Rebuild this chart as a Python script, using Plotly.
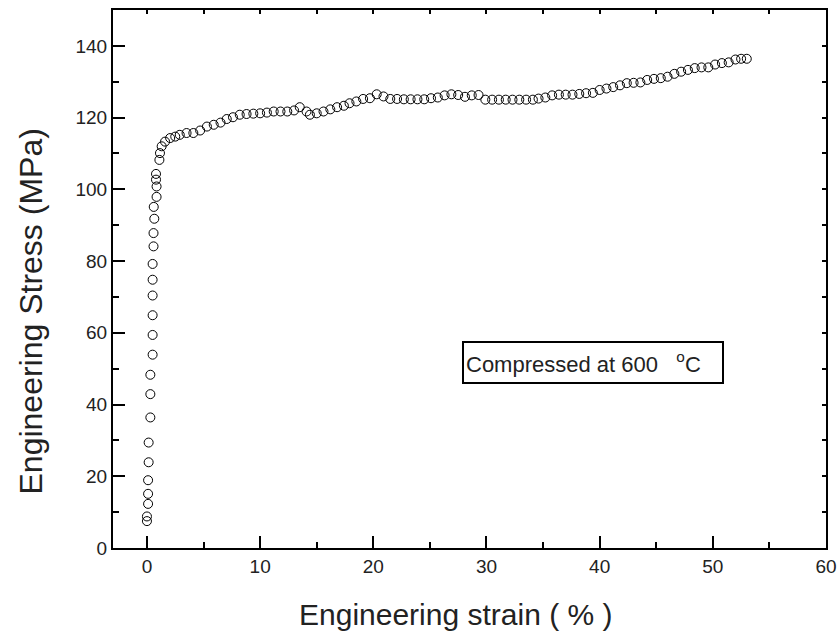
import plotly.graph_objects as go

# engineering strain (%) and stress (MPa)
strain = [0.0, 0.0, 0.1, 0.1, 0.1, 0.15, 0.15, 0.3, 0.3, 0.3,
          0.5, 0.5, 0.5, 0.5, 0.5, 0.5, 0.58, 0.58, 0.65, 0.6,
          0.85, 0.85, 0.8, 0.8, 1.1, 1.15, 1.3, 1.6, 2.05, 2.5,
          2.9, 3.5, 4.1, 4.7, 5.3, 5.9, 6.5, 7.05, 7.6, 8.2,
          8.8, 9.4, 10.0, 10.6, 11.2, 11.8, 12.4, 13.0, 13.5, 14.1,
          14.4, 15.0, 15.6, 16.2, 16.8, 17.4, 17.9, 18.5, 19.1, 19.7,
          20.3, 20.9, 21.5, 22.1, 22.7, 23.3, 23.9, 24.5, 25.1, 25.7,
          26.3, 26.9, 27.5, 28.1, 28.7, 29.3, 29.9, 30.5, 31.1, 31.7,
          32.3, 32.9, 33.5, 34.1, 34.6, 35.2, 35.8, 36.4, 37.0, 37.6,
          38.2, 38.8, 39.4, 40.0, 40.6, 41.2, 41.8, 42.4, 43.0, 43.6,
          44.2, 44.8, 45.4, 46.0, 46.6, 47.2, 47.8, 48.4, 49.0, 49.6,
          50.2, 50.8, 51.4, 52.0, 52.5, 53.0]
stress = [7.5, 8.8, 12.3, 15.1, 18.9, 23.9, 29.4, 36.4, 42.9, 48.3,
          53.9, 59.4, 64.9, 70.4, 74.8, 79.2, 84.1, 87.8, 91.8, 95.1,
          97.9, 100.8, 102.7, 104.3, 108.2, 110.1, 112.0, 113.3, 114.3, 114.7,
          115.2, 115.7, 115.7, 116.4, 117.5, 118.0, 118.6, 119.6, 120.1, 120.8,
          121.0, 121.1, 121.2, 121.4, 121.7, 121.7, 121.7, 122.0, 122.9, 121.7,
          120.8, 121.2, 121.7, 122.3, 122.9, 123.3, 124.0, 124.5, 125.2, 125.4,
          126.5, 125.9, 125.2, 125.2, 125.1, 125.1, 125.1, 125.1, 125.4, 125.6,
          126.2, 126.5, 126.3, 125.8, 126.2, 126.3, 125.0, 125.0, 125.0, 125.0,
          125.0, 125.0, 125.0, 125.0, 125.3, 125.6, 126.2, 126.4, 126.4, 126.4,
          126.6, 126.8, 126.9, 127.7, 128.1, 128.5, 129.0, 129.6, 129.7, 129.8,
          130.5, 130.8, 131.0, 131.4, 132.2, 132.8, 133.3, 133.8, 134.0, 134.0,
          134.8, 135.2, 135.4, 136.2, 136.4, 136.4]

x_ticks = [0, 10, 20, 30, 40, 50, 60]
y_ticks = [0, 20, 40, 60, 80, 100, 120, 140]
label = "Compressed at 600&nbsp;&nbsp; <sup>o</sup>C"
x_title = "Engineering strain ( % )"
y_title = "Engineering Stress (MPa)"

FONT = "Arial, Liberation Sans, Helvetica, sans-serif"

fig = go.Figure()
fig.add_trace(go.Scatter(x=strain, y=stress, mode="markers",
                         marker=dict(symbol="circle-open", size=9, color="black",
                                     line=dict(width=1, color="black")),
                         showlegend=False, hoverinfo="x+y"))
# same data on the mirrored axes so the top/right frame ticks are drawn
fig.add_trace(go.Scatter(x=strain, y=stress, mode="markers", xaxis="x2", yaxis="y2",
                         marker=dict(opacity=0), showlegend=False, hoverinfo="skip"))

axis_common = dict(showline=True, linewidth=2, linecolor="black", showgrid=False,
                   zeroline=False, ticks="inside", tickwidth=2, ticklen=12,
                   tickcolor="black", tickfont=dict(size=19, color="#222"),
                   automargin=False)

fig.update_layout(
    width=830, height=636, autosize=False,
    margin=dict(l=113, r=4, t=10, b=88, autoexpand=False),
    paper_bgcolor="white", plot_bgcolor="white",
    font=dict(family=FONT, color="black"),
    xaxis=dict(range=[-3, 60], tickvals=x_ticks, ticklabeloverflow="allow",
               minor=dict(dtick=5, ticks="inside", ticklen=6, tickwidth=2, tickcolor="black"),
               **axis_common),
    yaxis=dict(range=[0, 150], tickvals=y_ticks,
               minor=dict(dtick=10, ticks="inside", ticklen=6, tickwidth=2, tickcolor="black"),
               **axis_common),
    xaxis2=dict(range=[-3, 60], overlaying="x", side="top", showline=True, linewidth=2,
                linecolor="black", showgrid=False, zeroline=False, ticks="inside",
                tickvals=list(range(0, 61, 5)), ticklen=4, tickwidth=2, tickcolor="black",
                showticklabels=False),
    yaxis2=dict(range=[0, 150], overlaying="y", side="right", showline=True, linewidth=2,
                linecolor="black", showgrid=False, zeroline=False, ticks="inside",
                tickvals=list(range(0, 151, 10)), ticklen=4, tickwidth=2, tickcolor="black",
                showticklabels=False),
)

# plot area: x 113..826, y 10..548 (713 x 538)
fig.add_annotation(x=0.481, y=-0.1236, xref="paper", yref="paper", text=x_title,
                   showarrow=False, font=dict(size=30, color="#222"),
                   xanchor="center", yanchor="middle")
fig.add_annotation(x=-0.115, y=0.4396, xref="paper", yref="paper", text=y_title,
                   showarrow=False, font=dict(size=32, color="#222"), textangle=-90,
                   xanchor="center", yanchor="middle")

fig.add_annotation(x=39.45, y=51.7, xref="x", yref="y", text=label, showarrow=False,
                   font=dict(size=22, color="#222"), align="left",
                   width=254, height=35, bordercolor="black", borderwidth=2, borderpad=2,
                   bgcolor="white")

# drop the default page margin and let the last tick label spill past the svg edge
fig.write_html("out.html",
               config={"displayModeBar": False, "responsive": False},
               post_script="document.documentElement.style.overflow='hidden';"
                           "document.body.style.margin='0';document.body.style.overflow='hidden';"
                           "document.querySelectorAll('svg.main-svg').forEach(function(s){"
                           "s.style.overflow='visible';});")
